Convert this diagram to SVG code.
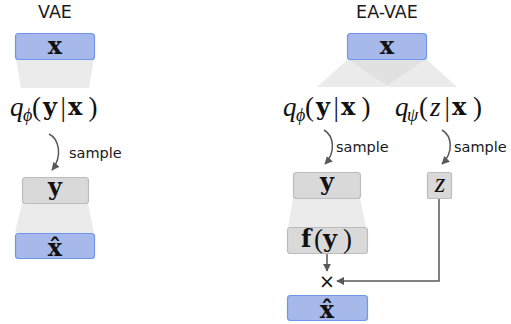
<svg xmlns="http://www.w3.org/2000/svg" width="511" height="324" viewBox="0 0 511 324">
  <style>
    .title { font-family: "DejaVu Sans", sans-serif; font-size: 17.5px; fill: #1a1a1a; text-anchor: middle; }
    .lbl { font-family: "DejaVu Sans", sans-serif; font-size: 14.5px; fill: #1a1a1a; }
    .m { font-family: "Liberation Serif", "Times New Roman", serif; font-size: 27px; fill: #111; }
    .mb { font-family: "DejaVu Serif", serif; font-weight: bold; font-size: 24px; fill: #111; }
    .it { font-style: italic; }
    .sub { font-family: "Liberation Serif", serif; font-style: italic; font-size: 18px; fill: #111; }
    .blue { fill: #a6b9ea; stroke: #6f96ec; stroke-width: 1.2; }
    .gray { fill: #d9d9d9; stroke: #bcbcbc; stroke-width: 1.2; }
    .band { fill: #ebebeb; }
    .overlap { fill: #e1e1e1; }
    .wire { fill: none; stroke: #595959; stroke-width: 1.5; }
  </style>
  <defs>
    <marker id="head" viewBox="0 0 10 10" refX="9" refY="5" markerWidth="8" markerHeight="8" orient="auto" markerUnits="userSpaceOnUse">
      <path d="M0,0 L10,5 L0,10 z" fill="#595959"/>
    </marker>
  </defs>

  <!-- shaded bands between layers -->
  <g id="bands">
    <polygon class="band" points="16,59 94,59 89,88 21,88"/>
    <polygon class="band" points="22,203 88,203 94,233 15,233"/>
    <polygon class="band" points="348,59 426,59 385,87 317,87"/>
    <polygon class="band" points="348,59 426,59 457,87 389,87"/>
    <polygon class="overlap" points="348,59 426,59 387,85.6"/>
    <polygon class="band" points="293,198 360,198 366,227 288,227"/>
  </g>

  <!-- column titles -->
  <text class="title" x="55" y="18">VAE</text>
  <text class="title" x="387" y="18">EA-VAE</text>

  <!-- encoder distributions -->
  <g id="vae-q">
    <text class="m it" x="10" y="116">q</text>
    <text class="sub" x="23" y="121">ϕ</text>
    <text class="m" x="32" y="116">(</text>
    <text class="mb" x="43" y="115">y</text>
    <text class="m" x="60.5" y="116">|</text>
    <text class="mb" x="68" y="115">x</text>
    <text class="m" x="88.5" y="116">)</text>
  </g>
  <g id="ea-qphi">
    <text class="m it" x="283" y="116">q</text>
    <text class="sub" x="296" y="121">ϕ</text>
    <text class="m" x="305" y="116">(</text>
    <text class="mb" x="316" y="115">y</text>
    <text class="m" x="333.5" y="116">|</text>
    <text class="mb" x="341" y="115">x</text>
    <text class="m" x="361.5" y="116">)</text>
  </g>
  <g id="ea-qpsi">
    <text class="m it" x="395" y="116">q</text>
    <text class="sub" x="407" y="121">ψ</text>
    <text class="m" x="419" y="116">(</text>
    <text class="m it" x="430" y="116" font-size="29">z</text>
    <text class="m" x="444.5" y="116">|</text>
    <text class="mb" x="452" y="115">x</text>
    <text class="m" x="473" y="116">)</text>
  </g>

  <!-- VAE nodes -->
  <g id="vae-x">
    <rect class="blue" x="15.5" y="33.5" width="79" height="26" rx="3"/>
    <text class="mb" x="55" y="54" text-anchor="middle">x</text>
  </g>
  <g id="vae-y">
    <rect class="gray" x="22.5" y="177.5" width="66" height="26" rx="3"/>
    <text class="mb" x="55" y="195" text-anchor="middle">y</text>
  </g>
  <g id="vae-xhat">
    <rect class="blue" x="15.5" y="233.5" width="79" height="25" rx="3"/>
    <text class="mb" x="55" y="256" text-anchor="middle">x̂</text>
  </g>

  <!-- EA-VAE nodes -->
  <g id="ea-x">
    <rect class="blue" x="347.5" y="33.5" width="79" height="26" rx="3"/>
    <text class="mb" x="387" y="54" text-anchor="middle">x</text>
  </g>
  <g id="ea-y">
    <rect class="gray" x="293.5" y="172.5" width="67" height="26" rx="3"/>
    <text class="mb" x="327" y="190" text-anchor="middle">y</text>
  </g>
  <g id="ea-z">
    <rect class="gray" x="427.5" y="172.5" width="24" height="26" rx="2"/>
    <text class="m it" x="440" y="192" font-size="29" text-anchor="middle">z</text>
  </g>
  <g id="ea-fy">
    <rect class="gray" x="287.5" y="227.5" width="80" height="26" rx="3"/>
    <text class="mb" x="301" y="247">f</text>
    <text class="m" x="314" y="248">(</text>
    <text class="mb" x="323" y="247">y</text>
    <text class="m" x="343" y="248">)</text>
  </g>
  <g id="ea-xhat">
    <rect class="blue" x="287.5" y="295.5" width="80" height="25" rx="3"/>
    <text class="mb" x="327" y="318" text-anchor="middle">x̂</text>
  </g>
  <g id="ea-mul">
    <text x="327" y="288" text-anchor="middle" font-family="DejaVu Sans, sans-serif" font-size="19" fill="#111">×</text>
  </g>

  <!-- connectors -->
  <g id="connectors">
    <path class="wire" d="M49,134 C59,139 63,156 52,170" marker-end="url(#head)"/>
    <path class="wire" d="M324,130 C334,136 336,152 325,164" marker-end="url(#head)"/>
    <path class="wire" d="M442,130 C452,136 454,152 442,164" marker-end="url(#head)"/>
    <path class="wire" d="M327,254 L327,271" marker-end="url(#head)"/>
    <path class="wire" d="M439,199 L439,281 L337,281" marker-end="url(#head)"/>
  </g>

  <!-- sampling labels -->
  <text class="lbl" x="69" y="158">sample</text>
  <text class="lbl" x="336" y="152">sample</text>
  <text class="lbl" x="454" y="152">sample</text>
</svg>
